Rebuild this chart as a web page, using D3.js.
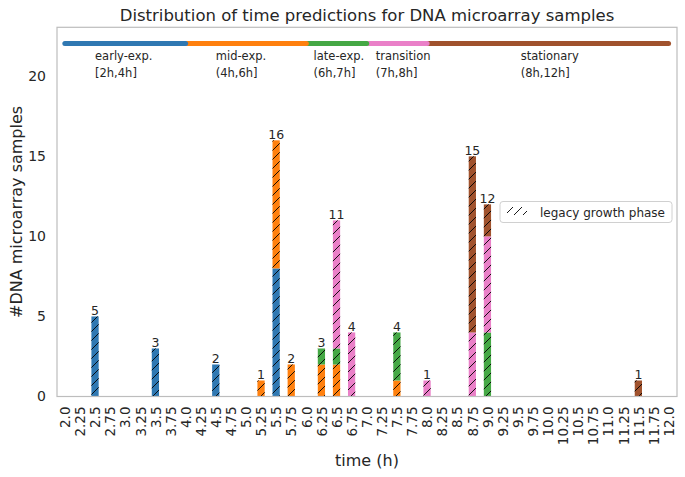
<!DOCTYPE html>
<html>
<head>
<meta charset="utf-8">
<script src="https://cdn.jsdelivr.net/npm/d3@7"></script>
<style>
  body { margin: 0; background: #fff; }
  text { font-family: "DejaVu Sans", sans-serif; fill: #262626; }
</style>
</head>
<body>
<div id="chart"></div>
<script>
// time points with samples (h)
const times = [2.5, 3.5, 4.5, 5.25, 5.5, 5.75, 6.25, 6.5, 6.75, 7.5, 8.0, 8.75, 9.0, 11.5];

// counts per legacy growth phase at each time point
const earlyExp   = [5, 3, 2, 0, 8, 0, 0, 0, 0, 0, 0, 0, 0, 0];
const midExp     = [0, 0, 0, 1, 8, 2, 2, 2, 0, 1, 0, 0, 0, 0];
const lateExp    = [0, 0, 0, 0, 0, 0, 1, 1, 0, 3, 0, 0, 4, 0];
const transition = [0, 0, 0, 0, 0, 0, 0, 8, 4, 0, 1, 4, 6, 0];
const stationary = [0, 0, 0, 0, 0, 0, 0, 0, 0, 0, 0, 11, 2, 1];

const phaseKeys = ["early", "mid", "late", "transition", "stationary"];
const phaseNames = ["early-exp.", "mid-exp.", "late-exp.", "transition", "stationary"];
const phaseRanges = ["[2h,4h]", "(4h,6h]", "(6h,7h]", "(7h,8h]", "(8h,12h]"];
const phaseBounds = [2, 4, 6, 7, 8, 12];
const phaseLabelX = [2.5, 4.5, 6.12, 7.15, 9.55];
const phaseColors = ["#2f78b2", "#ff800e", "#45a845", "#ea80c8", "#a0522d"];

const xTickLabels = ["2.0", "2.25", "2.5", "2.75", "3.0", "3.25", "3.5", "3.75", "4.0", "4.25",
  "4.5", "4.75", "5.0", "5.25", "5.5", "5.75", "6.0", "6.25", "6.5", "6.75", "7.0", "7.25",
  "7.5", "7.75", "8.0", "8.25", "8.5", "8.75", "9.0", "9.25", "9.5", "9.75", "10.0", "10.25",
  "10.5", "10.75", "11.0", "11.25", "11.5", "11.75", "12.0"];
const yTicks = [0, 5, 10, 15, 20];

const width = 685, height = 477;
const plotLeft = 57, plotRight = 677, plotTop = 27.3, plotBottom = 396.5;

const svg = d3.select("#chart").append("svg")
  .attr("width", width)
  .attr("height", height);

// hatch pattern for the legacy growth phase
const hp = 9;
svg.append("defs").append("pattern")
  .attr("id", "hatch")
  .attr("patternUnits", "userSpaceOnUse")
  .attr("width", hp)
  .attr("height", hp)
  .append("path")
  .attr("d", `M-1,1 l2,-2 M0,${hp} l${hp},-${hp} M${hp - 1},${hp + 1} l2,-2`)
  .attr("stroke", "#000")
  .attr("stroke-width", 0.9);

const x = d3.scaleLinear().domain([1.87, 12.14]).range([plotLeft, plotRight]);
const y = d3.scaleLinear().domain([0, 23.06]).range([plotBottom, plotTop]);

// stacked data
const rows = times.map((t, i) => ({
  time: t,
  early: earlyExp[i], mid: midExp[i], late: lateExp[i],
  transition: transition[i], stationary: stationary[i]
}));
const stacked = d3.stack().keys(phaseKeys)(rows);
const total = d => d3.sum(phaseKeys, k => d[k]);

const barW = 0.12;
const layers = svg.append("g").selectAll("g")
  .data(stacked)
  .join("g")
  .attr("fill", (d, i) => phaseColors[i]);

layers.selectAll("rect")
  .data(d => d.filter(s => s[1] > s[0]))
  .join("rect")
  .attr("x", d => x(d.data.time - barW / 2))
  .attr("width", d => x(d.data.time + barW / 2) - x(d.data.time - barW / 2))
  .attr("y", d => y(d[1]))
  .attr("height", d => y(d[0]) - y(d[1]));

// hatch overlay over every bar
svg.append("g").selectAll("rect")
  .data(rows)
  .join("rect")
  .attr("x", d => x(d.time - barW / 2))
  .attr("width", d => x(d.time + barW / 2) - x(d.time - barW / 2))
  .attr("y", d => y(total(d)))
  .attr("height", d => y(0) - y(total(d)))
  .attr("fill", "url(#hatch)");

// totals above bars
svg.append("g").selectAll("text")
  .data(rows)
  .join("text")
  .attr("x", d => x(d.time))
  .attr("y", d => y(total(d)) - 1.5)
  .attr("text-anchor", "middle")
  .attr("font-size", 12.5)
  .text(d => total(d));

// phase band on top, drawn last-to-first so round caps overlap nicely
const segs = phaseKeys.map((k, i) => ({ i, from: phaseBounds[i], to: phaseBounds[i + 1] })).reverse();
svg.append("g").selectAll("line")
  .data(segs)
  .join("line")
  .attr("x1", d => x(d.from))
  .attr("x2", d => x(d.to))
  .attr("y1", y(22.05))
  .attr("y2", y(22.05))
  .attr("stroke", d => phaseColors[d.i])
  .attr("stroke-width", 5)
  .attr("stroke-linecap", "round");

const phaseText = svg.append("g").selectAll("text")
  .data(phaseNames)
  .join("text")
  .attr("x", (d, i) => x(phaseLabelX[i]))
  .attr("y", 60)
  .attr("font-size", 11.5);
phaseText.append("tspan").text(d => d);
phaseText.append("tspan")
  .attr("x", (d, i) => x(phaseLabelX[i]))
  .attr("dy", 17)
  .text((d, i) => phaseRanges[i]);

// frame
svg.append("rect")
  .attr("x", plotLeft).attr("y", plotTop)
  .attr("width", plotRight - plotLeft).attr("height", plotBottom - plotTop)
  .attr("fill", "none")
  .attr("stroke", "#bdbdbd")
  .attr("stroke-width", 1.2);

// y axis
const yAxis = svg.append("g")
  .attr("transform", `translate(${plotLeft},0)`)
  .call(d3.axisLeft(y).tickValues(yTicks).tickSize(0).tickPadding(11).tickFormat(d3.format("d")));
yAxis.select(".domain").remove();
yAxis.selectAll("text").attr("font-size", 14).attr("fill", "#262626")
  .style("font-family", "DejaVu Sans, sans-serif");

// x axis
const xAxis = svg.append("g")
  .attr("transform", `translate(0,${plotBottom})`)
  .call(d3.axisBottom(x).tickValues(xTickLabels.map(Number)).tickSize(0)
    .tickFormat((d, i) => xTickLabels[i]));
xAxis.select(".domain").remove();
xAxis.selectAll("text")
  .attr("font-size", 13.5)
  .attr("fill", "#262626")
  .style("font-family", "DejaVu Sans, sans-serif")
  .attr("text-anchor", "end")
  .attr("transform", "rotate(-90)")
  .attr("x", -10)
  .attr("y", 0)
  .attr("dy", "0.35em");

// titles
svg.append("text")
  .attr("x", (plotLeft + plotRight) / 2).attr("y", 21)
  .attr("text-anchor", "middle")
  .attr("font-size", 16.5)
  .text("Distribution of time predictions for DNA microarray samples");

svg.append("text")
  .attr("x", (plotLeft + plotRight) / 2).attr("y", 466)
  .attr("text-anchor", "middle")
  .attr("font-size", 16)
  .text("time (h)");

svg.append("text")
  .attr("transform", `translate(22,${(plotTop + plotBottom) / 2}) rotate(-90)`)
  .attr("text-anchor", "middle")
  .attr("font-size", 16)
  .text("#DNA microarray samples");

// legend
const lg = svg.append("g");
lg.append("rect")
  .attr("x", 500).attr("y", 201.5).attr("width", 172).attr("height", 21).attr("rx", 3)
  .attr("fill", "#fff").attr("stroke", "#d0d0d0");
lg.append("rect")
  .attr("x", 507).attr("y", 207).attr("width", 20).attr("height", 8)
  .attr("fill", "url(#hatch)");
lg.append("text")
  .attr("x", 540).attr("y", 216.5)
  .attr("font-size", 12)
  .text("legacy growth phase");
</script>
</body>
</html>
